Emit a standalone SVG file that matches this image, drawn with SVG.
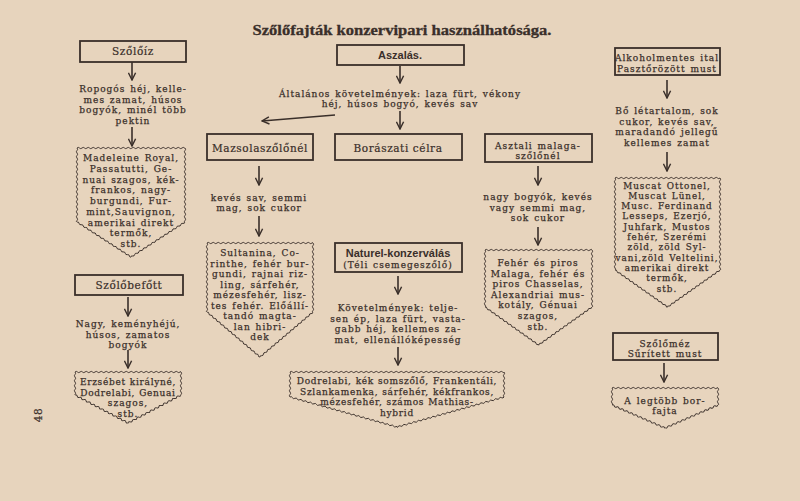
<svg xmlns="http://www.w3.org/2000/svg" width="800" height="501" viewBox="0 0 800 501">
<style>
.t{font-family:"DejaVu Serif","Liberation Serif",serif;font-size:9px;letter-spacing:1px;word-spacing:1px;fill:#3a2f2a;stroke:#3a2f2a;stroke-width:0.25;text-anchor:middle}
.m{font-size:8.8px}
.n{letter-spacing:0.7px;word-spacing:0.5px}
.b{font-family:"DejaVu Serif","Liberation Serif",serif;font-size:10.5px;letter-spacing:0.6px;fill:#3a2f2a;stroke:#3a2f2a;stroke-width:0.2;text-anchor:middle}
.s{font-family:"Liberation Sans",Arial,sans-serif;font-weight:bold;font-size:11px;fill:#3a2f2a;text-anchor:middle}
.ti{font-family:"Liberation Serif","DejaVu Serif",serif;font-weight:bold;font-size:15px;fill:#3a2f2a;stroke:#3a2f2a;stroke-width:0.3;text-anchor:middle}
.box{fill:none;stroke:#3a2f2a;stroke-width:1.8}
.wave{fill:none;stroke:#3a2f2a;stroke-width:0.9}
.ar{fill:none;stroke:#3a2f2a;stroke-width:1.6;marker-end:url(#ah)}
</style>
<defs>
<marker id="ah" viewBox="0 0 10 10" refX="9" refY="5" markerWidth="9" markerHeight="9" markerUnits="userSpaceOnUse" orient="auto">
<path d="M1,1 L9,5 L1,9" fill="none" stroke="#3a2f2a" stroke-width="1.6"/>
</marker>
<path id="w" class="wave" d="M0,0q1.25,-1.3 2.5,0t2.5,0t2.5,0t2.5,0t2.5,0t2.5,0t2.5,0t2.5,0t2.5,0t2.5,0t2.5,0t2.5,0t2.5,0t2.5,0t2.5,0t2.5,0t2.5,0t2.5,0t2.5,0t2.5,0t2.5,0t2.5,0t2.5,0t2.5,0t2.5,0t2.5,0t2.5,0t2.5,0t2.5,0t2.5,0t2.5,0t2.5,0t2.5,0t2.5,0t2.5,0t2.5,0t2.5,0t2.5,0t2.5,0t2.5,0t2.5,0t2.5,0t2.5,0t2.5,0t2.5,0t2.5,0t2.5,0t2.5,0t2.5,0t2.5,0t2.5,0t2.5,0t2.5,0t2.5,0t2.5,0t2.5,0t2.5,0t2.5,0t2.5,0t2.5,0t2.5,0t2.5,0t2.5,0t2.5,0t2.5,0t2.5,0t2.5,0t2.5,0t2.5,0t2.5,0t2.5,0t2.5,0t2.5,0t2.5,0t2.5,0t2.5,0t2.5,0t2.5,0t2.5,0t2.5,0t2.5,0t2.5,0t2.5,0t2.5,0t2.5,0t2.5,0t2.5,0t2.5,0t2.5,0t2.5,0t2.5,0t2.5,0t2.5,0t2.5,0t2.5,0t2.5,0t2.5,0t2.5,0t2.5,0t2.5,0t2.5,0"/>
</defs>
<rect width="800" height="501" fill="#e7d4bd"/>

<text class="ti" x="402" y="35" textLength="299" lengthAdjust="spacingAndGlyphs">Szőlőfajták konzervipari használhatósága.</text>
<text class="b" x="42" y="415" font-size="12" transform="rotate(-90 42 415)">48</text>

<g id="connectors">
<line class="ar" x1="132" y1="62" x2="132" y2="80"/>
<line class="ar" x1="132" y1="127" x2="132" y2="146"/>
<line class="ar" x1="128" y1="297" x2="128" y2="316"/>
<line class="ar" x1="128" y1="350" x2="128" y2="368"/>
<line class="ar" x1="400" y1="66" x2="400" y2="83"/>
<line class="ar" x1="400" y1="111" x2="400" y2="129"/>
<line class="ar" x1="335" y1="115" x2="262" y2="121"/>
<line class="ar" x1="259" y1="166" x2="259" y2="185"/>
<line class="ar" x1="259" y1="216" x2="259" y2="236"/>
<line class="ar" x1="398" y1="276" x2="398" y2="294"/>
<line class="ar" x1="398" y1="347" x2="398" y2="365"/>
<line class="ar" x1="538" y1="166" x2="538" y2="185"/>
<line class="ar" x1="538" y1="227" x2="538" y2="245"/>
<line class="ar" x1="667" y1="80" x2="667" y2="98"/>
<line class="ar" x1="667" y1="152" x2="667" y2="171"/>
<line class="ar" x1="664" y1="363" x2="664" y2="382"/>
</g>

<!-- Left column -->
<g id="szoloiz">
<rect class="box" x="80" y="41" width="106" height="21"/>
<text class="b" x="133" y="55">Szőlőíz</text>
</g>
<g id="ropogos">
<text class="t" x="133" y="92">Ropogós héj, kelle-</text>
<text class="t" x="133" y="102.5">mes zamat, húsos</text>
<text class="t" x="133" y="113">bogyók, minél több</text>
<text class="t" x="133" y="123.5">pektin</text>
</g>
<g id="madeleine">
<g transform="translate(77,148)"><svg y="-3" width="108" height="6"><use href="#w" y="3"/></svg></g>
<g transform="translate(77,148) rotate(90)"><svg y="-3" width="74" height="6"><use href="#w" y="3"/></svg></g>
<g transform="translate(185,148) rotate(90)"><svg y="-3" width="74" height="6"><use href="#w" y="3"/></svg></g>
<g transform="translate(77,222) rotate(32.95)"><svg y="-3" width="64.4" height="6"><use href="#w" y="3"/></svg></g>
<g transform="translate(185,222) rotate(147.05)"><svg y="-3" width="64.4" height="6"><use href="#w" y="3"/></svg></g>
<text class="t" x="131" y="161">Madeleine Royal,</text>
<text class="t" x="131" y="171.75">Passatutti, Ge-</text>
<text class="t" x="131" y="182.5">nuai szagos, kék-</text>
<text class="t" x="131" y="193.25">frankos, nagy-</text>
<text class="t" x="131" y="204">burgundi, Fur-</text>
<text class="t" x="131" y="214.75">mint,Sauvignon,</text>
<text class="t" x="131" y="225.5">amerikai direkt</text>
<text class="t" x="131" y="236.25">termők,</text>
<text class="t" x="131" y="247">stb.</text>
</g>
<g id="szolobefott">
<rect class="box" x="75" y="275" width="108" height="20"/>
<text class="b" x="129" y="289">Szőlőbefőtt</text>
</g>
<g id="nagy">
<text class="t" x="128" y="327">Nagy, keményhéjú,</text>
<text class="t" x="128" y="337.5">húsos, zamatos</text>
<text class="t" x="128" y="348">bogyók</text>
</g>
<g id="erzsebet">
<g transform="translate(75,372)"><svg y="-3" width="106" height="6"><use href="#w" y="3"/></svg></g>
<g transform="translate(75,372) rotate(90)"><svg y="-3" width="23" height="6"><use href="#w" y="3"/></svg></g>
<g transform="translate(181,372) rotate(90)"><svg y="-3" width="23" height="6"><use href="#w" y="3"/></svg></g>
<g transform="translate(75,395) rotate(27.85)"><svg y="-3" width="60" height="6"><use href="#w" y="3"/></svg></g>
<g transform="translate(181,395) rotate(152.15)"><svg y="-3" width="60" height="6"><use href="#w" y="3"/></svg></g>
<text class="t n" x="128" y="385">Erzsébet királyné,</text>
<text class="t n" x="128" y="395.5">Dodrelabi, Genuai</text>
<text class="t" x="128" y="406">szagos,</text>
<text class="t" x="128" y="416.5">stb.</text>
</g>

<!-- Center -->
<g id="aszalas">
<rect class="box" x="337" y="45" width="127" height="20"/>
<text class="s" x="400" y="59">Aszalás.</text>
</g>
<g id="altalanos">
<text class="t" x="400" y="96.5" word-spacing="2.5">Általános követelmények: laza fürt, vékony</text>
<text class="t" x="400" y="107" word-spacing="2.5">héj, húsos bogyó, kevés sav</text>
</g>
<g id="mazsola">
<rect class="box" x="207" y="134" width="106" height="26"/>
<text class="b" x="260" y="151.5">Mazsolaszőlőnél</text>
</g>
<g id="keves">
<text class="t" x="259" y="200.5" word-spacing="3">kevés sav, semmi</text>
<text class="t" x="259" y="211">mag, sok cukor</text>
</g>
<g id="sultanina">
<g transform="translate(207,243)"><svg y="-3" width="106" height="6"><use href="#w" y="3"/></svg></g>
<g transform="translate(207,243) rotate(90)"><svg y="-3" width="69" height="6"><use href="#w" y="3"/></svg></g>
<g transform="translate(313,243) rotate(90)"><svg y="-3" width="69" height="6"><use href="#w" y="3"/></svg></g>
<g transform="translate(207,312) rotate(40.33)"><svg y="-3" width="69.6" height="6"><use href="#w" y="3"/></svg></g>
<g transform="translate(313,312) rotate(139.67)"><svg y="-3" width="69.6" height="6"><use href="#w" y="3"/></svg></g>
<text class="t" x="260" y="256">Sultanina, Co-</text>
<text class="t" x="260" y="266.5">rinthe, fehér bur-</text>
<text class="t" x="260" y="277">gundi, rajnai riz-</text>
<text class="t" x="260" y="287.5">ling, sárfehér,</text>
<text class="t" x="260" y="298">mézesfehér, lisz-</text>
<text class="t" x="260" y="308.5">tes fehér. Előállí-</text>
<text class="t" x="260" y="319">tandó magta-</text>
<text class="t" x="260" y="329.5">lan hibri-</text>
<text class="t" x="260" y="340">dek</text>
</g>
<g id="boraszati">
<rect class="box" x="335" y="134" width="127" height="26"/>
<text class="b" x="398" y="151.5">Borászati célra</text>
</g>
<g id="naturel">
<rect class="box" x="335" y="243" width="127" height="29"/>
<text class="s" x="398" y="256.5" font-size="11.5">Naturel-konzerválás</text>
<text class="t" x="398" y="268">(Téli csemegeszőlő)</text>
</g>
<g id="kovetelmenyek">
<text class="t" x="398" y="311">Követelmények: telje-</text>
<text class="t" x="398" y="321.5">sen ép, laza fürt, vasta-</text>
<text class="t" x="398" y="332">gabb héj, kellemes za-</text>
<text class="t" x="398" y="342.5">mat, ellenállóképesség</text>
</g>
<g id="dodrelabi">
<g transform="translate(290,372)"><svg y="-3" width="214" height="6"><use href="#w" y="3"/></svg></g>
<g transform="translate(290,372) rotate(90)"><svg y="-3" width="25" height="6"><use href="#w" y="3"/></svg></g>
<g transform="translate(504,372) rotate(90)"><svg y="-3" width="25" height="6"><use href="#w" y="3"/></svg></g>
<g transform="translate(290,397) rotate(15.66)"><svg y="-3" width="111.2" height="6"><use href="#w" y="3"/></svg></g>
<g transform="translate(504,397) rotate(164.34)"><svg y="-3" width="111.2" height="6"><use href="#w" y="3"/></svg></g>
<text class="t n" x="397" y="384">Dodrelabi, kék somszőlő, Frankentáli,</text>
<text class="t n" x="397" y="394.5">Szlankamenka, sárfehér, kékfrankos,</text>
<text class="t n" x="397" y="405">mézesfehér, számos Mathias-</text>
<text class="t n" x="397" y="415.5">hybrid</text>
</g>
<g id="asztali">
<rect class="box" x="485" y="134" width="107" height="28"/>
<text class="t" x="538" y="148.5">Asztali malaga-</text>
<text class="t" x="538" y="159">szőlőnél</text>
</g>
<g id="nagybogyok">
<text class="t" x="538" y="200">nagy bogyók, kevés</text>
<text class="t" x="538" y="210.5" word-spacing="3">vagy semmi mag,</text>
<text class="t" x="538" y="221">sok cukor</text>
</g>
<g id="feher">
<g transform="translate(485,250)"><svg y="-3" width="107" height="6"><use href="#w" y="3"/></svg></g>
<g transform="translate(485,250) rotate(90)"><svg y="-3" width="57" height="6"><use href="#w" y="3"/></svg></g>
<g transform="translate(592,250) rotate(90)"><svg y="-3" width="57" height="6"><use href="#w" y="3"/></svg></g>
<g transform="translate(485,307) rotate(35.39)"><svg y="-3" width="65.7" height="6"><use href="#w" y="3"/></svg></g>
<g transform="translate(592,307) rotate(144.61)"><svg y="-3" width="65.7" height="6"><use href="#w" y="3"/></svg></g>
<text class="t" x="538" y="266" word-spacing="3">Fehér és piros</text>
<text class="t" x="538" y="276.6">Malaga, fehér és</text>
<text class="t" x="538" y="287.2">piros Chasselas,</text>
<text class="t" x="538" y="297.8">Alexandriai mus-</text>
<text class="t" x="538" y="308.4">kotály, Génuai</text>
<text class="t" x="538" y="319">szagos,</text>
<text class="t" x="538" y="329.6">stb.</text>
</g>

<!-- Right column -->
<g id="alkohol">
<rect class="box" x="615" y="48" width="105" height="27"/>
<text class="t" x="667" y="60.5" letter-spacing="0.6">Alkoholmentes ital</text>
<text class="t" x="667" y="71.5" letter-spacing="0.6">Pasztőrözött must</text>
</g>
<g id="bo">
<text class="t" x="667" y="114">Bő létartalom, sok</text>
<text class="t" x="667" y="124.5" word-spacing="3">cukor, kevés sav,</text>
<text class="t" x="667" y="135">maradandó jellegű</text>
<text class="t" x="667" y="145.5">kellemes zamat</text>
</g>
<g id="muscat">
<g transform="translate(615,178)"><svg y="-3" width="105" height="6"><use href="#w" y="3"/></svg></g>
<g transform="translate(615,178) rotate(90)"><svg y="-3" width="92" height="6"><use href="#w" y="3"/></svg></g>
<g transform="translate(720,178) rotate(90)"><svg y="-3" width="92" height="6"><use href="#w" y="3"/></svg></g>
<g transform="translate(615,270) rotate(35.18)"><svg y="-3" width="64.3" height="6"><use href="#w" y="3"/></svg></g>
<g transform="translate(720,270) rotate(144.82)"><svg y="-3" width="64.3" height="6"><use href="#w" y="3"/></svg></g>
<text class="t m" x="667" y="188.5" word-spacing="4">Muscat Ottonel,</text>
<text class="t m" x="667" y="198.8">Muscat Lünel,</text>
<text class="t m" x="667" y="209.1">Musc. Ferdinand</text>
<text class="t m" x="667" y="219.4">Lesseps, Ezerjó,</text>
<text class="t m" x="667" y="229.7">Juhfark, Mustos</text>
<text class="t m" x="667" y="240">fehér, Szerémi</text>
<text class="t m" x="667" y="250.3" word-spacing="4">zöld, zöld Syl-</text>
<text class="t m" x="667" y="260.6" letter-spacing="0.5">vani,zöld Veltelini,</text>
<text class="t m" x="667" y="270.9">amerikai direkt</text>
<text class="t m" x="667" y="281.2">termők,</text>
<text class="t m" x="667" y="291.5">stb.</text>
</g>
<g id="szolomez">
<rect class="box" x="613" y="333" width="105" height="27"/>
<text class="t" x="665" y="346.5">Szőlőméz</text>
<text class="t" x="665" y="357">Sűrített must</text>
</g>
<g id="legtobb">
<g transform="translate(612,388)"><svg y="-3" width="106" height="6"><use href="#w" y="3"/></svg></g>
<g transform="translate(612,388) rotate(90)"><svg y="-3" width="17" height="6"><use href="#w" y="3"/></svg></g>
<g transform="translate(718,388) rotate(90)"><svg y="-3" width="17" height="6"><use href="#w" y="3"/></svg></g>
<g transform="translate(612,405) rotate(23.46)"><svg y="-3" width="57.8" height="6"><use href="#w" y="3"/></svg></g>
<g transform="translate(718,405) rotate(156.54)"><svg y="-3" width="57.8" height="6"><use href="#w" y="3"/></svg></g>
<text class="t" x="665" y="403.5">A legtöbb bor-</text>
<text class="t" x="665" y="414">fajta</text>
</g>
</svg>
